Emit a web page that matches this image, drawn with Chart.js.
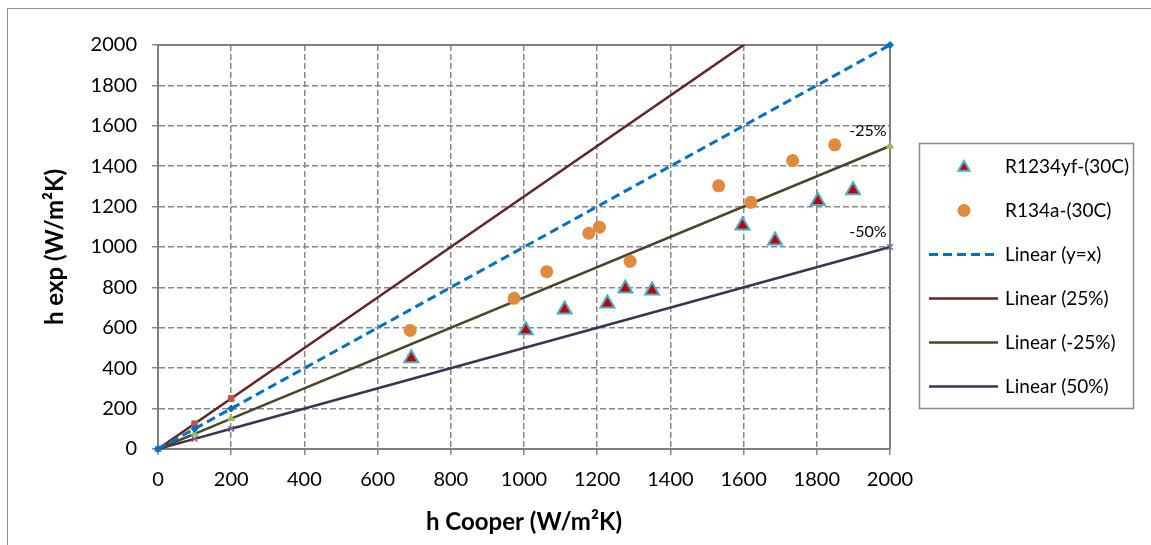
<!DOCTYPE html>
<html>
<head>
<meta charset="utf-8">
<script src="https://cdn.jsdelivr.net/npm/chart.js@4.4.1/dist/chart.umd.min.js"></script>
<style>
  html, body { margin: 0; padding: 0; background: #ffffff; }
  #wrap { position: relative; width: 1151px; height: 545px; }
</style>
</head>
<body>
<div id="wrap"><canvas id="chart" width="1151" height="545"></canvas></div>
<script>
// Measured heat transfer coefficients against the Cooper correlation
const cooperR1234yf = [692, 1005, 1111, 1228, 1277, 1350, 1597, 1686, 1803, 1899];
const expR1234yf    = [449, 588, 691, 720, 795, 785, 1107, 1032, 1228, 1281];
const cooperR134a   = [689, 973, 1062, 1177, 1206, 1290, 1532, 1620, 1734, 1849];
const expR134a      = [587, 746, 878, 1068, 1098, 929, 1303, 1221, 1428, 1506];

// Reference lines (y = x and the ±25 % / 50 % deviation bands)
const refX        = [0, 100, 200, 2000];
const refEqual    = [0, 100, 200, 2000];
const refPlus25   = [0, 125, 250, 2500];
const refMinus25  = [0, 75, 150, 1500];
const refMinus50  = [0, 50, 100, 1000];

const seriesNames = ['R1234yf-(30C)', 'R134a-(30C)', 'Linear (y=x)', 'Linear (25%)', 'Linear (-25%)', 'Linear (50%)'];
const bandLabels  = ['-25%', '-50%'];
const axisTicks   = [0, 200, 400, 600, 800, 1000, 1200, 1400, 1600, 1800, 2000];
const xTitle = 'h Cooper (W/m\u00B2K)';
const yTitle = 'h exp (W/m\u00B2K)';

const pts = (xs, ys) => xs.map((x, i) => ({ x: x, y: ys[i] }));

const FONT = 'Lato, "Open Sans", sans-serif';
const GRID = '#878787';

// White page with the thin outer frame
const pageFrame = {
  id: 'pageFrame',
  beforeDraw(chart) {
    const ctx = chart.ctx;
    ctx.save();
    ctx.fillStyle = '#ffffff';
    ctx.fillRect(0, 0, chart.width, chart.height);
    ctx.strokeStyle = '#8f8f8f';
    ctx.lineWidth = 1;
    ctx.beginPath();
    ctx.moveTo(7.5, chart.height);
    ctx.lineTo(7.5, 8.5);
    ctx.lineTo(chart.width, 8.5);
    ctx.stroke();
    ctx.restore();
  }
};

// Solid top/right edge of the plot area
const plotFrame = {
  id: 'plotFrame',
  beforeDatasetsDraw(chart) {
    const { ctx, chartArea: a } = chart;
    ctx.save();
    ctx.strokeStyle = '#7f7f7f';
    ctx.lineWidth = 2;
    ctx.beginPath();
    ctx.moveTo(a.left, a.top);
    ctx.lineTo(a.right, a.top);
    ctx.lineTo(a.right, a.bottom);
    ctx.stroke();
    ctx.restore();
  }
};

// Text tags at the end of the -25 % and -50 % lines
const bandTags = {
  id: 'bandTags',
  afterDatasetsDraw(chart) {
    const { ctx, scales: { x, y } } = chart;
    const ends = [
      { x: refX[3], y: refMinus25[3], text: bandLabels[0] },
      { x: refX[3], y: refMinus50[3], text: bandLabels[1] }
    ];
    ctx.save();
    ctx.font = '16px ' + FONT;
    ctx.fillStyle = '#000000';
    ctx.textAlign = 'center';
    ctx.textBaseline = 'middle';
    ends.forEach(e => {
      ctx.fillText(e.text, x.getPixelForValue(e.x) - 22, y.getPixelForValue(e.y) - 15);
    });
    ctx.restore();
  }
};

// Boxed legend at the right
const boxLegend = {
  id: 'boxLegend',
  afterDraw(chart) {
    const ctx = chart.ctx;
    const box = { left: 919.5, top: 143.5, right: 1133.5, bottom: 408.5 };
    ctx.save();
    ctx.fillStyle = '#ffffff';
    ctx.fillRect(box.left, box.top, box.right - box.left, box.bottom - box.top);
    ctx.strokeStyle = '#8a8a8a';
    ctx.lineWidth = 1.5;
    ctx.strokeRect(box.left, box.top, box.right - box.left, box.bottom - box.top);
    chart.data.datasets.forEach((ds, i) => {
      const cy = 166.5 + i * 44;
      if (ds.showLine) {
        ctx.strokeStyle = ds.borderColor;
        ctx.lineWidth = ds.borderWidth;
        ctx.setLineDash(ds.borderDash || []);
        ctx.beginPath();
        ctx.moveTo(929, cy);
        ctx.lineTo(998, cy);
        ctx.stroke();
        ctx.setLineDash([]);
      } else {
        ctx.fillStyle = ds.backgroundColor;
        ctx.strokeStyle = ds.borderColor;
        ctx.lineWidth = ds.borderWidth;
        Chart.helpers.drawPoint(ctx, {
          pointStyle: ds.pointStyle,
          radius: 6.5,
          borderWidth: ds.borderWidth,
          rotation: 0
        }, 964, ds.pointStyle === 'triangle' ? cy + 1 : cy);
      }
      ctx.fillStyle = '#000000';
      ctx.font = '19px ' + FONT;
      ctx.textAlign = 'left';
      ctx.textBaseline = 'middle';
      ctx.fillText(ds.label, 1005, cy);
    });
    ctx.restore();
  }
};

new Chart(document.getElementById('chart'), {
  type: 'scatter',
  data: {
    datasets: [
      {
        label: seriesNames[0],
        data: pts(cooperR1234yf, expR1234yf),
        pointStyle: 'triangle',
        pointRadius: 8,
        backgroundColor: '#c00000',
        borderColor: '#4bacc6',
        borderWidth: 2,
        showLine: false
      },
      {
        label: seriesNames[1],
        data: pts(cooperR134a, expR134a),
        pointStyle: 'circle',
        pointRadius: 6.5,
        backgroundColor: '#e08a3e',
        borderColor: '#e08a3e',
        borderWidth: 0,
        showLine: false
      },
      {
        label: seriesNames[2],
        data: pts(refX, refEqual),
        showLine: true,
        borderColor: '#0070c0',
        borderWidth: 3,
        borderDash: [9, 5],
        pointStyle: 'rectRot',
        pointRadius: 3.5,
        pointBackgroundColor: '#0070c0',
        pointBorderColor: '#0070c0',
        pointBorderWidth: 1,
        clip: 8
      },
      {
        label: seriesNames[3],
        data: pts(refX, refPlus25),
        showLine: true,
        borderColor: '#632523',
        borderWidth: 2.5,
        pointStyle: 'rect',
        pointRadius: 4,
        pointBackgroundColor: '#c0504d',
        pointBorderColor: '#c0504d',
        pointBorderWidth: 1,
        clip: 0
      },
      {
        label: seriesNames[4],
        data: pts(refX, refMinus25),
        showLine: true,
        borderColor: '#4a452a',
        borderWidth: 2.5,
        pointStyle: 'triangle',
        pointRadius: 4,
        pointBackgroundColor: '#9bbb59',
        pointBorderColor: '#9bbb59',
        pointBorderWidth: 1,
        clip: 8
      },
      {
        label: seriesNames[5],
        data: pts(refX, refMinus50),
        showLine: true,
        borderColor: '#3f3151',
        borderWidth: 2.5,
        pointStyle: 'crossRot',
        pointRadius: 4,
        pointBackgroundColor: '#8064a2',
        pointBorderColor: '#8064a2',
        pointBorderWidth: 1.5,
        clip: 8
      }
    ]
  },
  options: {
    responsive: false,
    animation: false,
    devicePixelRatio: 1,
    events: [],
    layout: { padding: { left: 0, top: 45, right: 261, bottom: 0 } },
    plugins: {
      legend: { display: false },
      tooltip: { enabled: false }
    },
    scales: {
      x: {
        type: 'linear',
        min: 0,
        max: 2000,
        afterBuildTicks: s => { s.ticks = axisTicks.map(v => ({ value: v })); },
        afterFit: s => { s.height = 96; },
        ticks: {
          callback: v => String(v),
          color: '#000000',
          font: { family: FONT, size: 20 },
          padding: 13,
          maxRotation: 0
        },
        grid: { color: GRID, lineWidth: 1.5, tickLength: 6, tickColor: GRID, tickWidth: 1.5 },
        border: { display: true, color: '#7f7f7f', width: 2, dash: [6, 3] },
        title: {
          display: true,
          text: xTitle,
          color: '#000000',
          font: { family: FONT, size: 24, weight: 'bold' },
          padding: { top: 0, bottom: 8 }
        }
      },
      y: {
        type: 'linear',
        min: 0,
        max: 2000,
        afterBuildTicks: s => { s.ticks = axisTicks.map(v => ({ value: v })); },
        afterFit: s => { s.width = 158; },
        ticks: {
          callback: v => String(v),
          color: '#000000',
          font: { family: FONT, size: 20 },
          padding: 15
        },
        grid: { color: GRID, lineWidth: 1.5, tickLength: 6, tickColor: GRID, tickWidth: 1.5 },
        border: { display: true, color: '#7f7f7f', width: 2, dash: [6, 3] },
        title: {
          display: true,
          text: yTitle,
          color: '#000000',
          font: { family: FONT, size: 24, weight: 'bold' },
          padding: { top: 41, bottom: 0 }
        }
      }
    }
  },
  plugins: [pageFrame, plotFrame, bandTags, boxLegend]
});
</script>
</body>
</html>
